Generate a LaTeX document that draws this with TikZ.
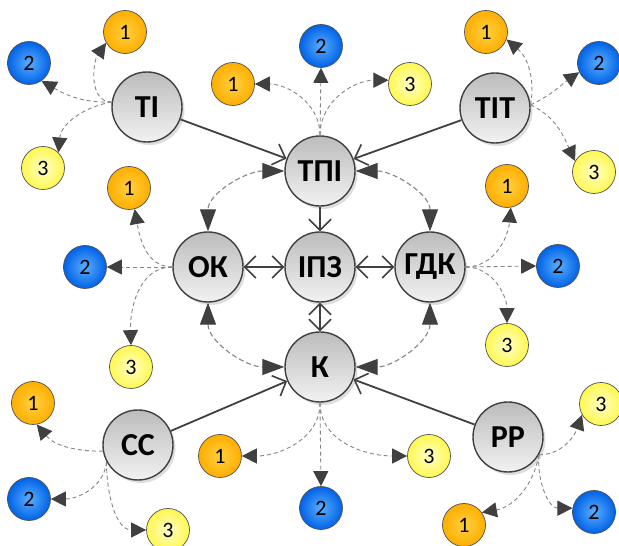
\documentclass[tikz,border=0pt]{standalone}
\usepackage{fontspec}
\setmainfont{Carlito}
\usetikzlibrary{arrows.meta,shadows}
\begin{document}

\definecolor{linedark}{HTML}{404040}
\definecolor{dashgray}{HTML}{858585}
\definecolor{bigtop}{HTML}{BCBCBC}
\definecolor{bigbot}{HTML}{F2F2F2}
\definecolor{ballborder}{HTML}{505050}
\definecolor{orangein}{HTML}{FFD040}
\definecolor{orangeout}{HTML}{FFAE00}
\definecolor{bluein}{HTML}{5AAEFF}
\definecolor{blueout}{HTML}{0062E6}
\definecolor{yellowin}{HTML}{FFFFC8}
\definecolor{yellowout}{HTML}{FFF850}

\tikzset{
  bignode/.style={circle, minimum size=70pt, inner sep=0pt,
    draw=linedark, line width=1.4pt, top color=bigtop, bottom color=bigbot,
    drop shadow={shadow xshift=2.5pt, shadow yshift=-3pt, fill=black, opacity=0.13},
    font=\fontsize{32}{34}\selectfont\bfseries},
  ball/.style={circle, minimum size=43pt, inner sep=0pt,
    draw=ballborder, line width=0.7pt, font=\fontsize{22}{24}\selectfont},
  orangeball/.style={ball, inner color=orangein, outer color=orangeout},
  blueball/.style={ball, inner color=bluein, outer color=blueout},
  yellowball/.style={ball, inner color=yellowin, outer color=yellowout},
  barb/.tip={Straight Barb[length=11pt,width=22pt,line width=1.6pt]},
  bigtri/.tip={Triangle[length=22pt,width=16pt,color=linedark]},
  smalltri/.tip={Triangle[length=15pt,width=15pt,color=linedark]},
  link/.style={draw=linedark, line width=1.8pt, -barb},
  linkboth/.style={draw=linedark, line width=1.8pt, barb-barb},
  pairdash/.style={draw=dashgray, line width=1.1pt, dash pattern=on 5pt off 3pt, bigtri-bigtri},
  leaf/.style={draw=dashgray, line width=0.9pt, dash pattern=on 4pt off 3pt, -smalltri},
}

\begin{tikzpicture}[x=1pt,y=1pt]
  \fill[white] (0,0) rectangle (619,546);
  \useasboundingbox (0,0) rectangle (619,546);

  % main nodes
  \node[bignode] (TI)  at (147,439) {ТІ};
  \node[bignode] (TPI) at (320,375) {ТПІ};
  \node[bignode] (TIT) at (495,438) {ТІТ};
  \node[bignode] (OK)  at (208,279) {ОК};
  \node[bignode] (IPZ) at (320,279) {ІПЗ};
  \node[bignode] (GDK) at (430,279) {ГДК};
  \node[bignode] (K)   at (320,179) {К};
  \node[bignode] (CC)  at (138,101) {СС};
  \node[bignode] (PP)  at (508,109) {РР};

  % numbered balls
  \node[orangeball] (ti1) at (125,514) {1};
  \node[blueball]   (ti2) at (29,483)  {2};
  \node[yellowball] (ti3) at (43,378)  {3};

  \node[orangeball] (tp1) at (233,462) {1};
  \node[blueball]   (tp2) at (321,500) {2};
  \node[yellowball] (tp3) at (410,462) {3};

  \node[orangeball] (tit1) at (486,514) {1};
  \node[blueball]   (tit2) at (599,483) {2};
  \node[yellowball] (tit3) at (594,374) {3};

  \node[orangeball] (ok1) at (129,358) {1};
  \node[blueball]   (ok2) at (85,279)  {2};
  \node[yellowball] (ok3) at (131,179) {3};

  \node[orangeball] (gdk1) at (507,360) {1};
  \node[blueball]   (gdk2) at (558,280) {2};
  \node[yellowball] (gdk3) at (507,201) {3};

  \node[orangeball] (k1) at (220,90) {1};
  \node[blueball]   (k2) at (321,38) {2};
  \node[yellowball] (k3) at (429,90) {3};

  \node[orangeball] (cc1) at (33,143) {1};
  \node[blueball]   (cc2) at (29,47)  {2};
  \node[yellowball] (cc3) at (168,16) {3};

  \node[orangeball] (pp1) at (464,21)  {1};
  \node[blueball]   (pp2) at (594,34)  {2};
  \node[yellowball] (pp3) at (601,142) {3};

  % branching points of the dashed links
  \coordinate (tiS)  at (TI.172);
  \coordinate (tpS)  at (TPI.north);
  \coordinate (titS) at (TIT.5);
  \coordinate (okS)  at (OK.west);
  \coordinate (gdkS) at (GDK.east);
  \coordinate (kS)   at (K.south);
  \coordinate (ccA)  at (CC.190);
  \coordinate (ccB)  at (CC.208);
  \coordinate (ppS)  at (PP.-30);

  % solid links
  \draw[link] (TI) -- (TPI);
  \draw[link] (TIT) -- (TPI);
  \draw[link] (TPI) -- (IPZ);
  \draw[linkboth] (OK) -- (IPZ);
  \draw[linkboth] (IPZ) -- (GDK);
  \draw[linkboth] (IPZ) -- (K);
  \draw[link] (CC) -- (K);
  \draw[link] (PP) -- (K);

  % dashed two-way links around the centre
  \draw[pairdash] (TPI.west) to[out=180,in=90] (OK.north);
  \draw[pairdash] (TPI.east) to[out=0,in=90] (GDK.north);
  \draw[pairdash] (OK.south) to[out=-90,in=180] (K.west);
  \draw[pairdash] (GDK.south) to[out=-90,in=0] (K.east);

  % dashed links to the numbered balls
  \draw[leaf] (tiS) to[out=180,in=235] (ti1.210);
  \draw[leaf] (tiS) to[out=182,in=-30] (ti2.-55);
  \draw[leaf] (tiS) to[out=190,in=85] (ti3.45);

  \draw[leaf] (tpS) to[out=90,in=0] (tp1.east);
  \draw[leaf] (tpS) -- (tp2.south);
  \draw[leaf] (tpS) to[out=90,in=180] (tp3.170);

  \draw[leaf] (titS) to[out=80,in=-40] (tit1.-20);
  \draw[leaf] (titS) to[out=25,in=215] (tit2.205);
  \draw[leaf] (titS) to[out=-25,in=115] (tit3.150);

  \draw[leaf] (okS) to[out=180,in=-80] (ok1.-75);
  \draw[leaf] (okS) -- (ok2.east);
  \draw[leaf] (okS) to[out=180,in=92] (ok3.north);

  \draw[leaf] (gdkS) to[out=0,in=-95] (gdk1.-80);
  \draw[leaf] (gdkS) -- (gdk2.west);
  \draw[leaf] (gdkS) to[out=0,in=90] (gdk3.north);

  \draw[leaf] (kS) to[out=-90,in=0] (k1.east);
  \draw[leaf] (kS) -- (k2.north);
  \draw[leaf] (kS) to[out=-90,in=180] (k3.west);

  \draw[leaf] (ccA) to[out=180,in=-50] (cc1.-80);
  \draw[leaf] (ccB) to[out=-95,in=0] (cc2.east);
  \draw[leaf] (ccB) to[out=-90,in=180] (cc3.west);

  \draw[leaf] (ppS) to[out=0,in=-110] (pp3.210);
  \draw[leaf] (ppS) to[out=-100,in=10] (pp1.35);
  \draw[leaf] (ppS) to[out=-95,in=180] (pp2.170);
\end{tikzpicture}
\end{document}
